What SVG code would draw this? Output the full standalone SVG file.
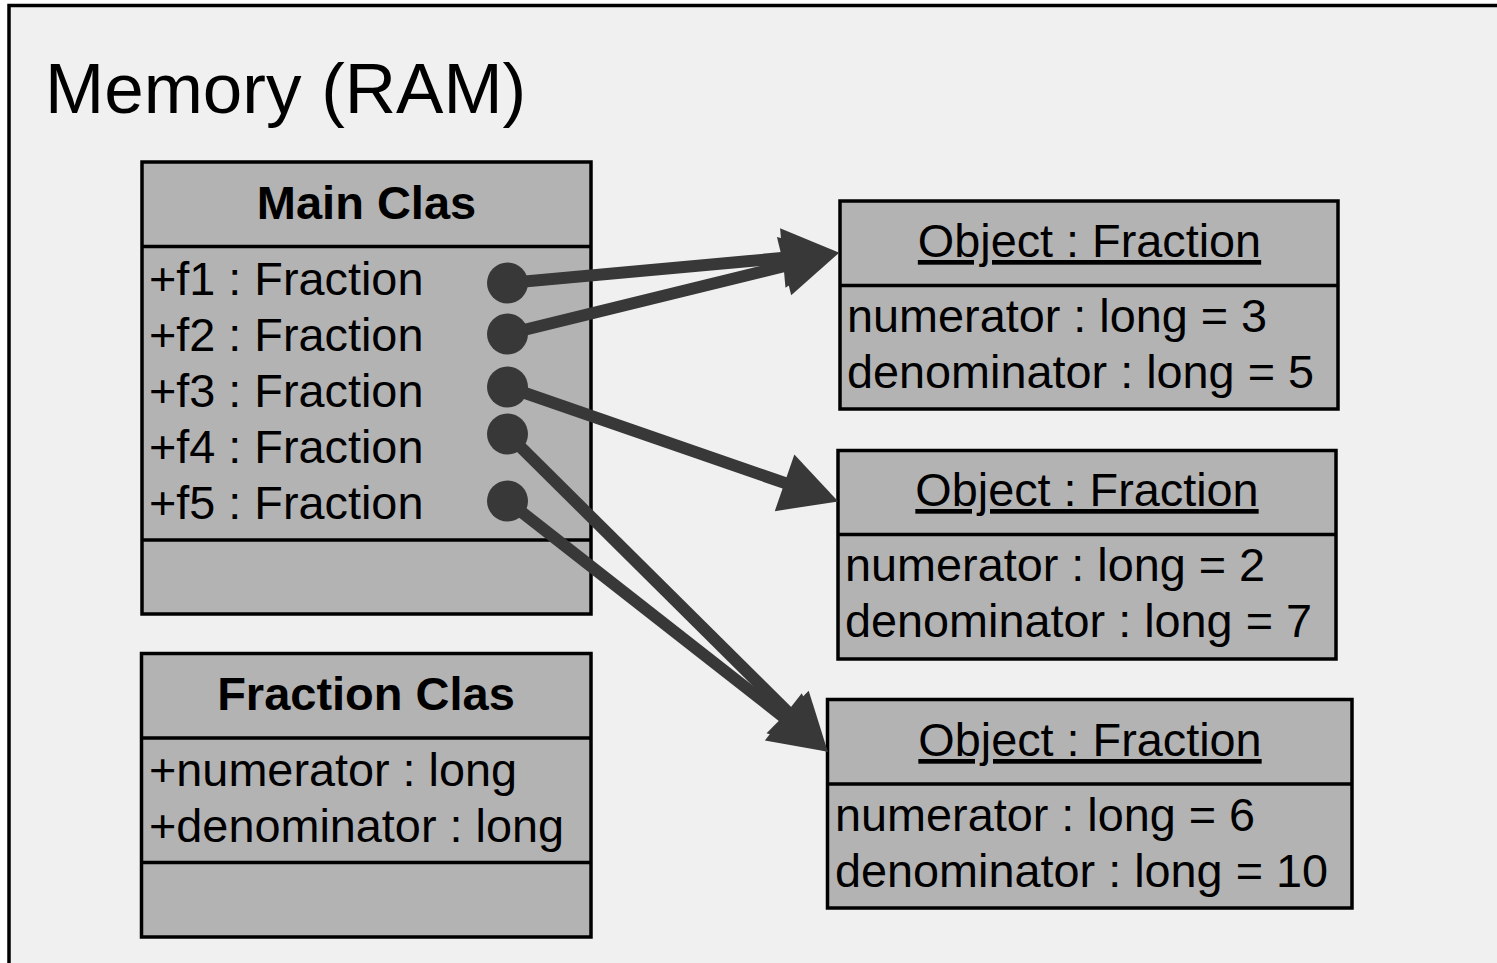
<svg xmlns="http://www.w3.org/2000/svg" width="1497" height="963" viewBox="0 0 1497 963">
<style>
text{font-family:"Liberation Sans",Arial,sans-serif;fill:#000}
.box{fill:#b3b3b3;stroke:#000;stroke-width:3.5}
.div{stroke:#000;stroke-width:3.5}
.title{font-size:47px;font-weight:bold;text-anchor:middle}
.attr{font-size:46.8px}
.otitle{font-size:46.8px;text-anchor:middle;text-decoration:underline}
.conn{stroke:#383838;stroke-width:12;fill:none}
.dot{fill:#383838}
</style>
<defs>
<marker id="arrow" markerUnits="userSpaceOnUse" markerWidth="60" markerHeight="64" viewBox="0 -31 56 62" refX="15" refY="0" orient="auto">
<path d="M0,-29 L55,0 L0,29 z" fill="#383838"/>
</marker>
</defs>
<rect x="0" y="0" width="1497" height="963" fill="#ffffff"/>
<rect id="memory" x="9" y="5.5" width="1500" height="970" fill="#f0f0f0" stroke="#000" stroke-width="3.5"/>
<text x="45" y="113" style="font-size:71px">Memory (RAM)</text>

<g id="main-class">
<rect class="box" x="142" y="162" width="449" height="452"/>
<line class="div" x1="142" y1="246.5" x2="591" y2="246.5"/>
<line class="div" x1="142" y1="540" x2="591" y2="540"/>
<text class="title" x="366.5" y="219">Main Clas</text>
<text class="attr" x="149" y="295">+f1 : Fraction</text>
<text class="attr" x="149" y="351">+f2 : Fraction</text>
<text class="attr" x="149" y="407">+f3 : Fraction</text>
<text class="attr" x="149" y="463">+f4 : Fraction</text>
<text class="attr" x="149" y="519">+f5 : Fraction</text>
</g>

<g id="fraction-class">
<rect class="box" x="141.5" y="653.5" width="449.5" height="283.5"/>
<line class="div" x1="141.5" y1="738" x2="591" y2="738"/>
<line class="div" x1="141.5" y1="862.5" x2="591" y2="862.5"/>
<text class="title" x="366" y="710">Fraction Clas</text>
<text class="attr" x="149" y="786">+numerator : long</text>
<text class="attr" x="149" y="842">+denominator : long</text>
</g>

<g id="object1">
<rect class="box" x="840" y="201" width="498" height="208"/>
<line class="div" x1="840" y1="285.5" x2="1338" y2="285.5"/>
<text class="otitle" x="1089.5" y="257">Object : Fraction</text>
<text class="attr" x="847" y="332">numerator : long = 3</text>
<text class="attr" x="847" y="388">denominator : long = 5</text>
</g>

<g id="object2">
<rect class="box" x="838" y="450.5" width="498" height="208.5"/>
<line class="div" x1="838" y1="534.5" x2="1336" y2="534.5"/>
<text class="otitle" x="1087" y="506">Object : Fraction</text>
<text class="attr" x="845" y="581">numerator : long = 2</text>
<text class="attr" x="845" y="637">denominator : long = 7</text>
</g>

<g id="object3">
<rect class="box" x="827.5" y="699.5" width="524.5" height="208.5"/>
<line class="div" x1="827.5" y1="784" x2="1352" y2="784"/>
<text class="otitle" x="1090" y="756">Object : Fraction</text>
<text class="attr" x="835" y="831">numerator : long = 6</text>
<text class="attr" x="835" y="887">denominator : long = 10</text>
</g>

<g id="connectors">
<line class="conn" x1="507.5" y1="283" x2="798.2" y2="256.6" marker-end="url(#arrow)"/>
<line class="conn" x1="507.5" y1="334" x2="799.1" y2="262.5" marker-end="url(#arrow)"/>
<line class="conn" x1="507.5" y1="387" x2="799.2" y2="487.9" marker-end="url(#arrow)"/>
<line class="conn" x1="507.5" y1="434" x2="798.6" y2="722.8" marker-end="url(#arrow)"/>
<line class="conn" x1="507.5" y1="501" x2="795.5" y2="726.4" marker-end="url(#arrow)"/>
<circle class="dot" cx="507.5" cy="283" r="20.5"/>
<circle class="dot" cx="507.5" cy="334" r="20.5"/>
<circle class="dot" cx="507.5" cy="387" r="20.5"/>
<circle class="dot" cx="507.5" cy="434" r="20.5"/>
<circle class="dot" cx="507.5" cy="501" r="20.5"/>
</g>
</svg>
